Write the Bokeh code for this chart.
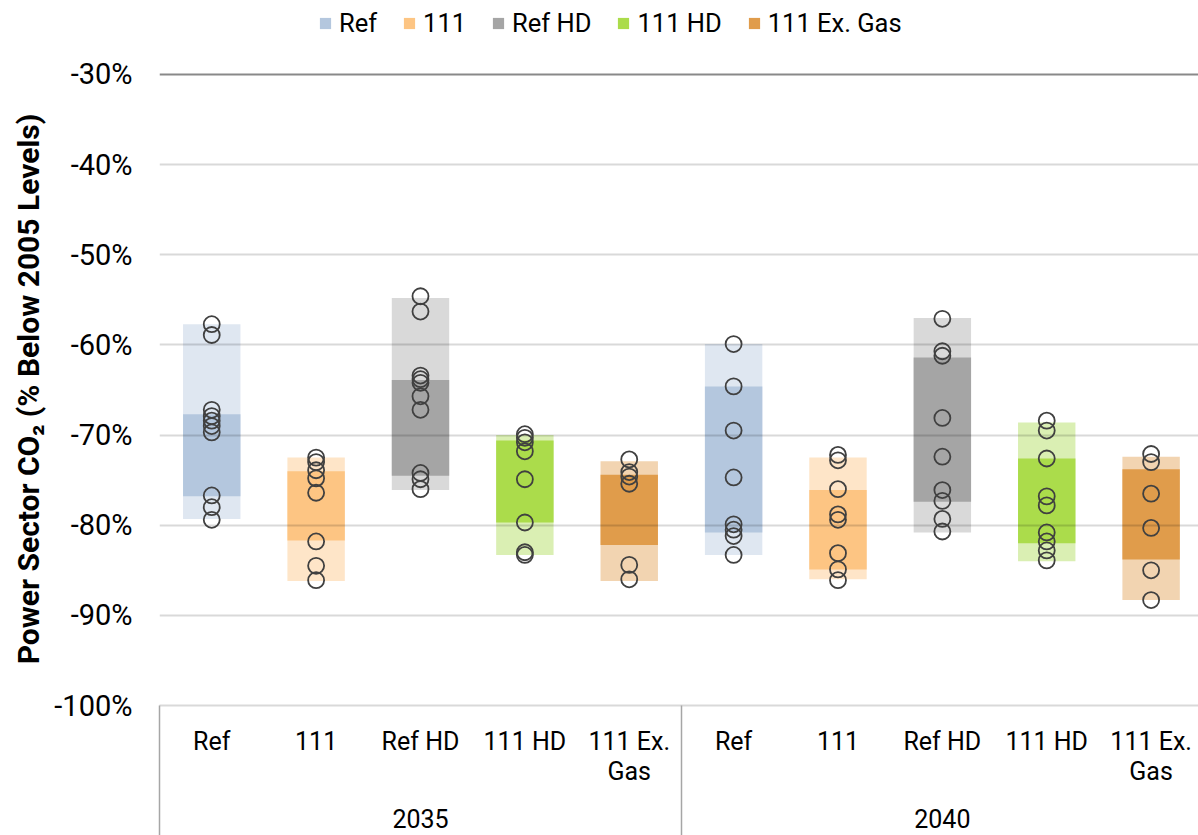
from bokeh.plotting import figure
from bokeh.layouts import column
from bokeh.models import (Range1d, FixedTicker, PrintfTickFormatter, CustomJSTickFormatter,
                          Legend, LegendItem, LinearAxis)
from bokeh.embed import file_html
from bokeh.resources import INLINE

# ---------------- data ----------------
years = ["2035", "2040"]
categories = ["Ref", "111", "Ref HD", "111 HD", "111 Ex.\nGas"]
series = ["Ref", "111", "Ref HD", "111 HD", "111 Ex. Gas"]
y_ticks = [-100, -90, -80, -70, -60, -50, -40, -30]

# individual model results, [2035 list, 2040 list]
ref_pts = [[-57.7, -58.9, -67.2, -67.9, -68.4, -69.0, -69.7, -76.7, -78.0, -79.4],
           [-59.9, -64.6, -69.5, -74.7, -79.9, -80.5, -81.2, -83.3]]
s111_pts = [[-72.5, -73.0, -73.9, -74.8, -76.4, -81.8, -84.5, -86.1],
            [-72.2, -72.8, -76.0, -78.8, -79.4, -83.1, -84.9, -86.1]]
refhd_pts = [[-54.6, -56.3, -63.4, -63.8, -64.2, -65.7, -67.2, -74.2, -74.9, -76.0],
             [-57.1, -60.7, -61.2, -68.1, -72.4, -76.1, -77.3, -79.3, -80.7]]
s111hd_pts = [[-69.9, -70.3, -70.8, -71.8, -74.9, -79.7, -83.0, -83.3],
              [-68.4, -69.5, -72.6, -76.8, -77.8, -80.8, -81.8, -82.8, -83.9]]
exgas_pts = [[-72.7, -74.1, -74.6, -75.4, -84.4, -86.0],
             [-72.1, -73.0, -76.5, -80.3, -85.0, -88.3]]
all_pts = [ref_pts, s111_pts, refhd_pts, s111hd_pts, exgas_pts]

# range (min-max) and inner (interquartile) bands, [2035, 2040]
range_top = [[-57.7, -59.9], [-72.5, -72.5], [-54.8, -57.0], [-70.0, -68.6], [-72.9, -72.4]]
range_bot = [[-79.3, -83.3], [-86.2, -86.0], [-76.1, -80.8], [-83.3, -84.0], [-86.2, -88.3]]
inner_top = [[-67.7, -64.6], [-74.0, -76.1], [-63.9, -61.4], [-70.6, -72.6], [-74.4, -73.8]]
inner_bot = [[-76.8, -80.8], [-81.7, -84.9], [-74.5, -77.4], [-79.7, -82.0], [-82.2, -83.8]]

dark_colors = ["#b4c7de", "#fdc583", "#a5a5a5", "#abdc4b", "#e09c4b"]
light_colors = ["#dfe7f1", "#fee5c8", "#d9d9d9", "#daefb3", "#f2d4b1"]

FONT = "Roboto"
n_cat = len(categories)
W, H = 1198, 835
LEG_H = 52
TOP_PAD = 20
px_per_unit = 9.02
frame_left = 159
frame_w = W - frame_left
cat_px = 104.38
SEP_LEN = 130

# ---------------- legend strip ----------------
leg = figure(width=W, height=LEG_H, output_backend="svg", toolbar_location=None,
             x_axis_location=None, y_axis_location=None,
             x_range=Range1d(0, 1), y_range=Range1d(0, 1),
             min_border_left=0, min_border_right=0, min_border_top=0, min_border_bottom=0)
leg.outline_line_color = None
leg.xgrid.visible = False
leg.ygrid.visible = False
legend_items = []
for i, name in enumerate(series):
    xs = [i + g * n_cat for g in range(len(years))]
    r = leg.vbar(x=xs, width=0.55, top=inner_top[i], bottom=inner_bot[i],
                 fill_color=dark_colors[i], line_color=None)
    legend_items.append(LegendItem(label=name, renderers=[r]))
legend = Legend(items=legend_items, orientation="horizontal", location=(318 - frame_left, 14),
                glyph_width=14, glyph_height=14, label_standoff=7, spacing=25,
                padding=0, margin=0, border_line_color=None, background_fill_alpha=0,
                label_text_font=FONT, label_text_font_size="25.5px", label_text_color="#000000")
leg.add_layout(legend, "center")

# ---------------- main chart ----------------
y_end = -30 + 2 / px_per_unit
y_start = y_ticks[0]
frame_h = round((y_end - y_start) * px_per_unit)
x_start = -0.5005
x_end = -0.5 + frame_w / cat_px

p = figure(frame_width=frame_w, frame_height=frame_h, output_backend="svg", toolbar_location=None,
           x_range=Range1d(x_start, x_end), y_range=Range1d(y_start, y_end),
           x_axis_location=None,
           min_border_left=frame_left, min_border_right=0,
           min_border_top=TOP_PAD, min_border_bottom=H - LEG_H - TOP_PAD - frame_h)
p.outline_line_color = None
p.xgrid.visible = False
p.ygrid.visible = False

yax = p.yaxis[0]
yax.ticker = FixedTicker(ticks=y_ticks)
yax.formatter = PrintfTickFormatter(format="%d%%")
yax.axis_line_color = None
yax.major_tick_line_color = None
yax.minor_tick_line_color = None
yax.major_tick_out = 0
yax.major_label_standoff = 27
yax.major_label_text_font = FONT
yax.major_label_text_font_size = "29px"
yax.major_label_text_color = "#000000"
yax.axis_label = "Power Sector CO\u2082 (% Below 2005 Levels)"
yax.axis_label_text_font = FONT
yax.axis_label_text_font_style = "bold"
yax.axis_label_text_font_size = "30px"
yax.axis_label_text_color = "#000000"
yax.axis_label_standoff = 5

# category axis (ticks at the bar centres, long minor ticks as group separators)
cat_labels = [c for _ in years for c in categories]
cat_pos = list(range(len(cat_labels)))
sep_pos = [g * n_cat - 0.5 for g in range(len(years) + 1)]
cat_axis = LinearAxis(
    ticker=FixedTicker(ticks=cat_pos, minor_ticks=sep_pos),
    formatter=CustomJSTickFormatter(args=dict(labels=cat_labels),
                                    code="return labels[Math.round(tick)];"),
    axis_line_color="#d9d9d9", axis_line_width=2,
    major_tick_line_color=None, major_tick_out=0, major_tick_in=0,
    minor_tick_line_color="#a6a6a6", minor_tick_line_width=1.5,
    minor_tick_out=SEP_LEN, minor_tick_in=0,
    major_label_standoff=21 - SEP_LEN, major_label_text_font=FONT,
    major_label_text_font_size="25px", major_label_text_color="#000000",
    major_label_text_line_height=1.04)
p.add_layout(cat_axis, "below")

year_pos = [g * n_cat + (n_cat - 1) / 2 for g in range(len(years))]
year_axis = LinearAxis(
    ticker=FixedTicker(ticks=year_pos),
    formatter=CustomJSTickFormatter(args=dict(labels=years, n=n_cat),
                                    code="return labels[Math.round((tick - (n - 1) / 2) / n)];"),
    axis_line_color=None, major_tick_line_color=None, minor_tick_line_color=None,
    major_tick_out=0, major_tick_in=0,
    major_label_standoff=20, major_label_text_font=FONT,
    major_label_text_font_size="25px", major_label_text_color="#000000")
p.add_layout(year_axis, "below")

for i, name in enumerate(series):
    xs = [i + g * n_cat for g in range(len(years))]
    p.vbar(x=xs, width=0.55, top=range_top[i], bottom=range_bot[i],
           fill_color=light_colors[i], line_color=None)
    p.vbar(x=xs, width=0.55, top=inner_top[i], bottom=inner_bot[i],
           fill_color=dark_colors[i], line_color=None)

# gridlines drawn over the bands (bands look translucent in the original)
grid_vals = [t for t in y_ticks if -100 < t < -30]
p.hspan(y=grid_vals, line_color="#000000", line_alpha=0.15, line_width=2)
p.hspan(y=[y_ticks[-1]], line_color="#898989", line_width=2)

for i in range(len(series)):
    for g in range(len(years)):
        vals = all_pts[i][g]
        p.scatter(x=[i + g * n_cat] * len(vals), y=vals, marker="circle", size=16,
                  fill_color=None, line_color="#404040", line_width=1.8)

layout = column(leg, p, spacing=0)
open("out.html", "w").write(file_html(layout, INLINE))
